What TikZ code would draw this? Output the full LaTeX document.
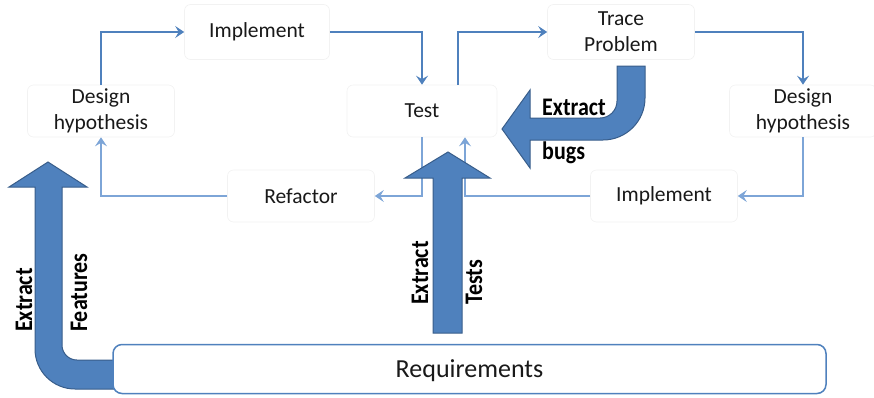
\documentclass[tikz,border=0pt]{standalone}
\usepackage{graphicx}
\usepackage{fontspec}
\setmainfont{Carlito}
\usetikzlibrary{arrows.meta}
\definecolor{flow}{RGB}{79,129,189}
\definecolor{flowlight}{RGB}{125,165,215}
\definecolor{bigfill}{RGB}{79,129,189}
\definecolor{bigedge}{RGB}{56,93,138}
\begin{document}
\begin{tikzpicture}[x=1pt,y=-1pt,
  stepbox/.style={rectangle, rounded corners=6pt, fill=white, draw=black!5,
    line width=0.6pt, minimum width=147pt, minimum height=52pt, align=center,
    font=\fontsize{21.5}{26}\selectfont, text=black!90, inner sep=0pt},
  conn/.style={draw=flow, line width=2.3pt,
    -{Stealth[length=9pt,width=12pt,inset=3.5pt]}},
  connlt/.style={conn, draw=flowlight},
  bigarrow/.style={fill=bigfill, draw=bigedge, line width=1pt, line join=miter},
  lbl/.style={font=\bfseries\fontsize{22}{22}\selectfont, inner sep=0pt,
    anchor=base west}]

\useasboundingbox (0,0) rectangle (874,397);

% process steps
\node[stepbox, minimum width=145pt, minimum height=55pt] (implA) at (257,32) {Implement};
\node[stepbox] (designL) at (101,111) {Design\\hypothesis};
\node[stepbox, minimum width=150pt] (test) at (422,111) {Test};
\node[stepbox, minimum height=55pt] (trace) at (621,32) {Trace\\Problem};
\node[stepbox] (designR) at (803,111) {Design\\hypothesis};
\node[stepbox] (implB) at (664,196) {Implement};
\node[stepbox] (refactor) at (301,196) {Refactor};

% cycle connectors
\draw[conn] (designL.north) |- (implA.west);
\draw[conn] (implA.east) -| (test.north);
\draw[conn] ([xshift=36pt]test.north) |- (trace.west);
\draw[conn] (trace.east) -| (designR.north);
\draw[connlt] (designR.south) |- (implB.east);
\draw[connlt] (implB.west) -| ([xshift=43pt]test.south);
\draw[connlt] (test.south) |- (refactor.east);
\draw[connlt] (refactor.west) -| (designL.south);

% block arrows
\draw[bigarrow] (114,389) -- (75,389) .. controls (52.9,389) and (35,371.1) .. (35,349)
  -- (35,187) -- (9,187) -- (48,162) -- (87,187) -- (62,187) -- (62,345)
  .. controls (62,353.3) and (68.7,360) .. (77,360) -- (114,360) -- cycle;
\draw[bigarrow] (433,333) -- (433,178) -- (405,178) -- (448,152) -- (490,178)
  -- (462,178) -- (462,333) -- cycle;
\draw[bigarrow] (617,66) -- (645,66) -- (645,98) .. controls (645,121.2) and (626.2,140) .. (603,140)
  -- (530,140) -- (530,168) -- (502,129) -- (530,90) -- (530,118) -- (600,118)
  .. controls (609.4,118) and (617,110.4) .. (617,101) -- cycle;

% requirements bar
\node[rectangle, rounded corners=9pt, draw=flow, line width=1.5pt, fill=white,
  minimum width=713pt, minimum height=49pt, inner sep=0pt, text depth=0pt,
  font=\fontsize{26}{30}\selectfont, text=black!90] (req) at (469.5,369) {Requirements};

% arrow labels
\node[lbl] (exBugs) at (542,115) {\scalebox{1}[1.15]{Extract}};
\node[lbl] (bugs) at (542,159) {\scalebox{1}[1.15]{bugs}};
\node[lbl, rotate=90] (exFeat) at (32,332) {\scalebox{1}[1.15]{Extract}};
\node[lbl, rotate=90] (feat) at (87,332) {\scalebox{1}[1.15]{Features}};
\node[lbl, rotate=90] (exTests) at (428,305) {\scalebox{1}[1.15]{Extract}};
\node[lbl, rotate=90] (tests) at (482,305) {\scalebox{1}[1.15]{Tests}};
\end{tikzpicture}
\end{document}
